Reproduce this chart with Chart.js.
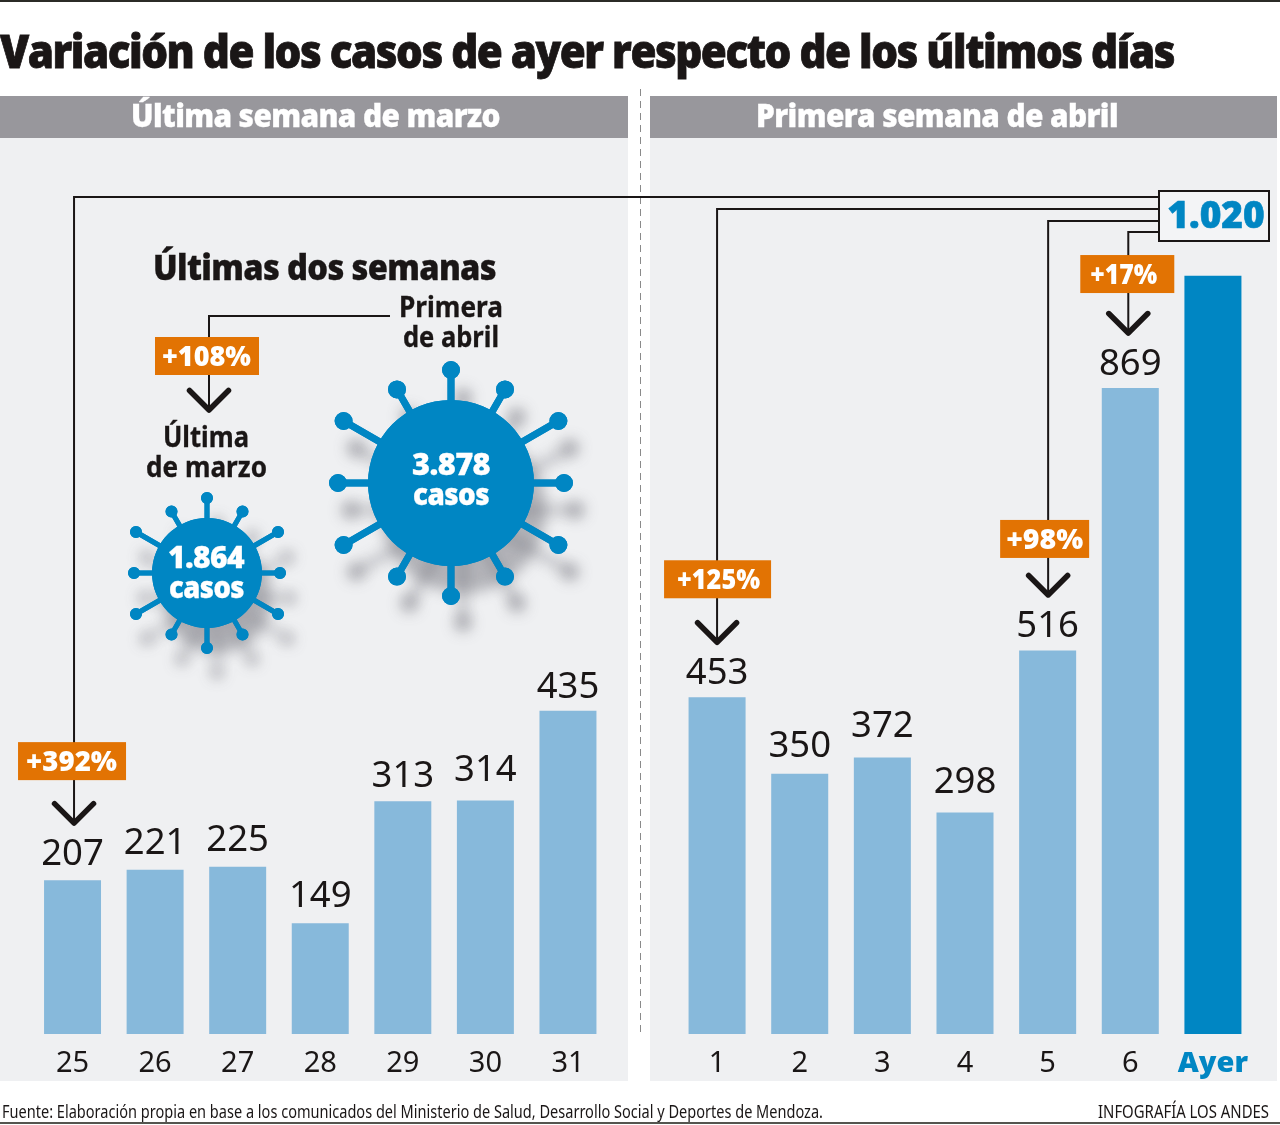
<!DOCTYPE html>
<html lang="es">
<head>
<meta charset="utf-8">
<title>Variación de los casos de ayer</title>
<script src="https://cdn.jsdelivr.net/npm/chart.js@4"></script>
<style>
html, body { margin: 0; padding: 0; background: #fff; }
#page { position: relative; width: 1280px; height: 1125px; overflow: hidden; }
#page canvas, #page svg { position: absolute; left: 0; top: 0; }
.k { fill: #1a1616; stroke: #1a1616; }
.w { fill: #fff; stroke: #fff; }
.h { font-family: "Open Sans", sans-serif; font-weight: 800; letter-spacing: -0.02em; stroke-width: 0.3px; }
.t { stroke-width: 0.8px; letter-spacing: -0.035em; }
.b { font-family: "Noto Sans", sans-serif; font-weight: 700; stroke-width: 0.3px; }
.f { font-family: "Noto Sans", sans-serif; font-weight: 400; font-size: 18px; fill: #1a1616; }
</style>
</head>
<body>
<div id="page">
  <svg width="1280" height="1125">
    <rect x="0" y="0" width="1280" height="2" fill="#2b2b26"/>
    <rect x="0" y="1122" width="1280" height="2" fill="#55554f"/>
    <rect x="0" y="96" width="628" height="985" fill="#eff0f2"/>
    <rect x="650" y="96" width="627" height="985" fill="#eff0f2"/>
    <rect x="0" y="96" width="628" height="42" fill="#98979c"/>
    <rect x="650" y="96" width="627" height="42" fill="#98979c"/>
    <line x1="640.5" y1="89" x2="640.5" y2="1033" stroke="#8a8a8a" stroke-width="1" stroke-dasharray="7 5"/>
  </svg>
  <canvas id="marzo" width="1280" height="1125"></canvas>
  <canvas id="abril" width="1280" height="1125"></canvas>
  <svg width="1280" height="1125">
    <text class="h t k" x="0" y="68" font-size="46" textLength="1174" lengthAdjust="spacingAndGlyphs">Variación de los casos de ayer respecto de los últimos días</text>
    <text class="h w" x="131" y="127" font-size="31" textLength="369" lengthAdjust="spacingAndGlyphs">Última semana de marzo</text>
    <text class="h w" x="756" y="127" font-size="31" textLength="362" lengthAdjust="spacingAndGlyphs">Primera semana de abril</text>
    <text class="h k" x="153" y="280" font-size="35" textLength="343" lengthAdjust="spacingAndGlyphs">Últimas dos semanas</text>
    <text class="b k" x="399" y="317" font-size="29" textLength="104" lengthAdjust="spacingAndGlyphs">Primera</text>
    <text class="b k" x="403" y="347" font-size="29" textLength="96" lengthAdjust="spacingAndGlyphs">de abril</text>
    <text class="b k" x="163" y="447" font-size="29" textLength="86" lengthAdjust="spacingAndGlyphs">Última</text>
    <text class="b k" x="146" y="477" font-size="29" textLength="121" lengthAdjust="spacingAndGlyphs">de marzo</text>
    <text class="h w" x="412" y="475" font-size="30" textLength="78" lengthAdjust="spacingAndGlyphs">3.878</text>
    <text class="h w" x="413" y="505" font-size="30" textLength="76" lengthAdjust="spacingAndGlyphs">casos</text>
    <text class="h w" x="168" y="568" font-size="30" textLength="76" lengthAdjust="spacingAndGlyphs">1.864</text>
    <text class="h w" x="169" y="598" font-size="30" textLength="75" lengthAdjust="spacingAndGlyphs">casos</text>
    <text class="f" x="2" y="1118" textLength="821" lengthAdjust="spacingAndGlyphs">Fuente: Elaboración propia en base a los comunicados del Ministerio de Salud, Desarrollo Social y Deportes de Mendoza.</text>
    <text class="f" x="1098" y="1118" textLength="171" lengthAdjust="spacingAndGlyphs">INFOGRAFÍA LOS ANDES</text>
  </svg>
</div>
<script>
// Datos
const marzoDias = ['25', '26', '27', '28', '29', '30', '31'];
const marzoCasos = [207, 221, 225, 149, 313, 314, 435];
const abrilDias = ['1', '2', '3', '4', '5', '6', 'Ayer'];
const abrilCasos = [453, 350, 372, 298, 516, 869, 1020];
const casosAyerTexto = '1.020';

const NEGRO = '#1a1616';
const NARANJA = '#e27303';
const CELESTE = '#87b9db';
const AZUL = '#0086c3';
const AYER = abrilDias.length - 1;

// separacion de cada numero respecto de su barra
const sepMarzo = [15, 16, 16, 16, 14, 20, 13];
const sepAbril = [13, 17, 20, 19, 13, 13, 0];

function recuadro(ctx, label, x, top, w, tx, tw) {
    ctx.fillStyle = NARANJA;
    ctx.fillRect(x - w / 2, top, w, 38);
    ctx.save();
    ctx.fillStyle = '#fff';
    ctx.font = '800 29px "Open Sans"';
    ctx.textAlign = 'center';
    ctx.textBaseline = 'alphabetic';
    ctx.translate(tx, top + 29);
    ctx.scale(tw / ctx.measureText(label).width, 1);
    ctx.fillText(label, 0, 0);
    ctx.restore();
}

function flecha(ctx, x, tip) {
    ctx.beginPath();
    ctx.moveTo(x - 19.5, tip - 19.5);
    ctx.lineTo(x, tip);
    ctx.lineTo(x + 19.5, tip - 19.5);
    ctx.strokeStyle = NEGRO;
    ctx.lineWidth = 5.5;
    ctx.lineCap = 'round';
    ctx.lineJoin = 'round';
    ctx.stroke();
}

function linea(ctx, pts, ancho) {
    ctx.beginPath();
    pts.forEach((p, i) => i ? ctx.lineTo(p[0], p[1]) : ctx.moveTo(p[0], p[1]));
    ctx.strokeStyle = NEGRO;
    ctx.lineWidth = ancho;
    ctx.lineCap = 'butt';
    ctx.lineJoin = 'miter';
    ctx.stroke();
}

function trazarVirus(ctx, cx, cy, r, largos, knob, grosor) {
    ctx.fillStyle = AZUL;
    ctx.strokeStyle = AZUL;
    ctx.lineWidth = grosor;
    ctx.beginPath();
    for (let i = 0; i < 12; i++) {
        const a = i * Math.PI / 6;
        const l = largos[i % 6];
        ctx.moveTo(cx, cy);
        ctx.lineTo(cx + Math.sin(a) * l, cy - Math.cos(a) * l);
    }
    ctx.stroke();
    ctx.beginPath();
    for (let i = 0; i < 12; i++) {
        const a = i * Math.PI / 6;
        const l = largos[i % 6];
        const x = cx + Math.sin(a) * l;
        const y = cy - Math.cos(a) * l;
        ctx.moveTo(x + knob, y);
        ctx.arc(x, y, knob, 0, Math.PI * 2);
    }
    ctx.moveTo(cx + r, cy);
    ctx.arc(cx, cy, r, 0, Math.PI * 2);
    ctx.fill();
}

function virus(ctx, cx, cy, r, largos, knob, grosor, sx, sy) {
    // primero la sombra, despues el virus limpio encima
    ctx.save();
    ctx.shadowColor = 'rgba(95,95,105,0.42)';
    ctx.shadowBlur = 14;
    ctx.shadowOffsetX = sx;
    ctx.shadowOffsetY = sy;
    trazarVirus(ctx, cx, cy, r, largos, knob, grosor);
    ctx.restore();
    trazarVirus(ctx, cx, cy, r, largos, knob, grosor);
}

// etiquetas de valor sobre cada barra
const etiquetas = {
    id: 'etiquetas',
    afterDatasetsDraw(chart) {
        const ctx = chart.ctx;
        const valores = chart.data.datasets[0].data;
        const abril = chart.canvas.id === 'abril';
        ctx.save();
        ctx.font = '36.5px "Noto Sans"';
        ctx.fillStyle = NEGRO;
        ctx.textAlign = 'center';
        ctx.textBaseline = 'alphabetic';
        chart.getDatasetMeta(0).data.forEach((bar, i) => {
            if (abril && i === AYER) return;
            ctx.fillText(String(valores[i]), bar.x, bar.y - (abril ? sepAbril : sepMarzo)[i]);
        });
        ctx.restore();
    }
};

function llamadas(lista) {
    return {
        id: 'llamadas',
        afterDatasetsDraw(chart) {
            const ctx = chart.ctx;
            const barras = chart.getDatasetMeta(0).data;
            ctx.save();
            lista.forEach(c => {
                const bar = barras[c.indice];
                const x = bar.x + c.lx;
                const tip = bar.y - c.sep;
                const top = tip - c.alto;
                linea(ctx, [[1160, c.lineaY], [x, c.lineaY], [x, tip - 2]], 2);
                recuadro(ctx, c.texto, bar.x + c.dx, top, c.ancho, bar.x + c.tdx, c.tw);
                flecha(ctx, x, tip);
            });
            ctx.restore();
        }
    };
}

const extrasMarzo = {
    id: 'extrasMarzo',
    afterDatasetsDraw(chart) {
        const ctx = chart.ctx;
        ctx.save();
        virus(ctx, 451, 483, 83, [113, 108, 124, 113, 124, 108], 9, 7, 12, 27);
        virus(ctx, 207, 573, 55, [75, 71, 82, 73, 82, 71], 6, 5, 10, 25);
        linea(ctx, [[390, 316], [209, 316], [209, 408]], 2);
        recuadro(ctx, '+108%', 207, 337, 104, 206.5, 89);
        flecha(ctx, 209, 410);
        ctx.restore();
    }
};

const cajaAyer = {
    id: 'cajaAyer',
    afterDatasetsDraw(chart) {
        const ctx = chart.ctx;
        ctx.save();
        ctx.fillStyle = '#f3f4f6';
        ctx.fillRect(1159, 191, 110, 50);
        ctx.strokeStyle = NEGRO;
        ctx.lineWidth = 2;
        ctx.strokeRect(1159, 191, 110, 50);
        ctx.fillStyle = AZUL;
        ctx.strokeStyle = AZUL;
        ctx.lineWidth = 0.6;
        ctx.font = '800 37px "Open Sans"';
        ctx.textAlign = 'center';
        ctx.textBaseline = 'alphabetic';
        ctx.fillText(casosAyerTexto, 1216, 228);
        ctx.strokeText(casosAyerTexto, 1216, 228);
        ctx.restore();
    }
};

function grafico(id, dias, casos, izq, der, plugins) {
    return new Chart(document.getElementById(id), {
        type: 'bar',
        data: {
            labels: dias,
            datasets: [{
                data: casos,
                backgroundColor: casos.map((v, i) => (id === 'abril' && i === AYER) ? AZUL : CELESTE),
                borderWidth: 0,
                barPercentage: 0.69,
                categoryPercentage: 1
            }]
        },
        options: {
            responsive: false,
            animation: false,
            layout: { padding: { left: izq, right: der, top: 142, bottom: 41 } },
            plugins: { legend: { display: false }, tooltip: { enabled: false } },
            scales: {
                y: { display: false, min: 0, max: 1200 },
                x: {
                    afterFit(scale) { scale.height = 50; },
                    border: { display: false },
                    grid: { display: false },
                    ticks: {
                        padding: 4,
                        maxRotation: 0,
                        autoSkip: false,
                        color: c => (id === 'abril' && c.index === AYER) ? AZUL : NEGRO,
                        font: c => (id === 'abril' && c.index === AYER)
                            ? { family: '"Open Sans"', size: 29, weight: '800' }
                            : { family: '"Noto Sans"', size: 29, weight: '400' }
                    }
                }
            }
        },
        plugins: plugins
    });
}

grafico('marzo', marzoDias, marzoCasos, 31.25, 670.75, [
    etiquetas,
    extrasMarzo,
    llamadas([{ indice: 0, texto: '+392%', lineaY: 197, sep: 57, alto: 81, ancho: 108, dx: -0.5, lx: 1.5, tdx: -1, tw: 91 }])
]);
grafico('abril', abrilDias, abrilCasos, 675.75, 25.75, [
    etiquetas,
    llamadas([
        { indice: 0, texto: '+125%', lineaY: 209, sep: 55, alto: 82, ancho: 107, dx: 0.5, lx: 0, tdx: 1.5, tw: 83 },
        { indice: 4, texto: '+98%', lineaY: 221, sep: 55.5, alto: 75, ancho: 89, dx: -3, lx: 0.5, tdx: -3, tw: 77 },
        { indice: 5, texto: '+17%', lineaY: 232, sep: 55, alto: 78, ancho: 94, dx: -3, lx: -2, tdx: -6.5, tw: 67 }
    ]),
    cajaAyer
]);
</script>
</body>
</html>
